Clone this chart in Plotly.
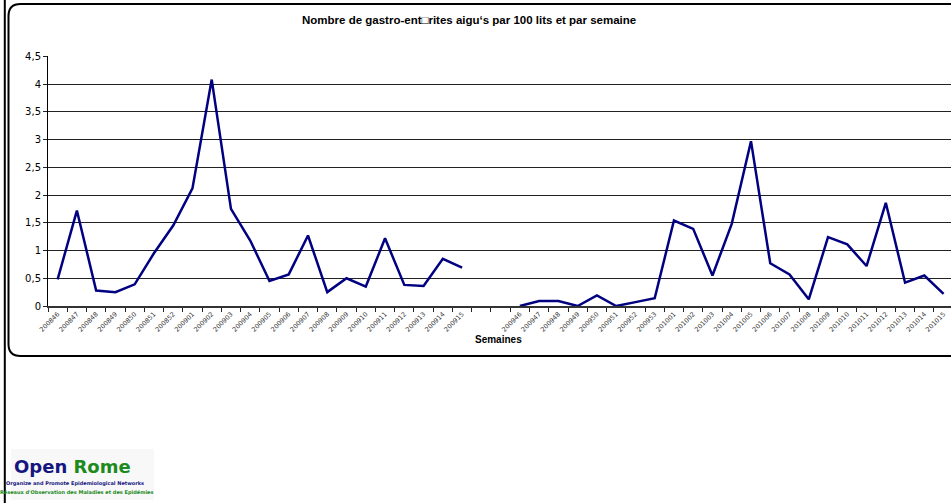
import plotly.graph_objects as go

# ---- data ----
weeks_1 = ["200846", "200847", "200848", "200849", "200850", "200851", "200852",
           "200901", "200902", "200903", "200904", "200905", "200906", "200907",
           "200908", "200909", "200910", "200911", "200912", "200913", "200914", "200915"]
values_1 = [0.48, 1.72, 0.28, 0.25, 0.39, 0.95, 1.45, 2.12, 4.08, 1.75, 1.18,
            0.45, 0.57, 1.27, 0.25, 0.50, 0.35, 1.22, 0.38, 0.36, 0.85, 0.69]

gap_labels = ["", ""]

weeks_2 = ["200946", "200947", "200948", "200949", "200950", "200951", "200952", "200953",
           "201001", "201002", "201003", "201004", "201005", "201006", "201007", "201008",
           "201009", "201010", "201011", "201012", "201013", "201014", "201015"]
values_2 = [0.0, 0.09, 0.09, 0.0, 0.19, 0.0, 0.07, 0.14, 1.54, 1.39, 0.55, 1.48,
            2.97, 0.77, 0.57, 0.12, 1.24, 1.11, 0.72, 1.86, 0.42, 0.55, 0.22]

labels = weeks_1 + gap_labels + weeks_2
values = values_1 + [None] * len(gap_labels) + values_2
xs = list(range(len(labels)))

title_text = "Nombre de gastro-ent\u25a1rites aigu\u2018s par 100 lits et par semaine"
x_title = "Semaines"

# ---- geometry helpers ----
W, H = 951, 503
ML, MR, MT, MB = 48, 0, 56, 197
PW, PH = W - ML - MR, H - MT - MB


def px(x):
    return (x - ML) / PW


def py(y):
    return (H - MB - y) / PH


fig = go.Figure()
fig.add_trace(go.Scatter(
    x=xs, y=values, mode="lines",
    line=dict(color="#000080", width=2.5),
    connectgaps=False, hoverinfo="skip", showlegend=False,
))

# rounded chart-area border
x0, y0, x1, y1, r = 8.5, 4, 975, 356, 12
path = (f"M {px(x0 + r)},{py(y0)} L {px(x1)},{py(y0)} L {px(x1)},{py(y1)} "
        f"L {px(x0 + r)},{py(y1)} Q {px(x0)},{py(y1)} {px(x0)},{py(y1 - r)} "
        f"L {px(x0)},{py(y0 + r)} Q {px(x0)},{py(y0)} {px(x0 + r)},{py(y0)} Z")
shapes = [
    dict(type="path", xref="paper", yref="paper", path=path,
         line=dict(color="black", width=2), fillcolor="rgba(0,0,0,0)", layer="above"),
    dict(type="line", xref="paper", yref="paper", x0=px(4.8), x1=px(4.8), y0=py(0), y1=py(503),
         line=dict(color="black", width=2)),
    dict(type="rect", xref="paper", yref="paper", x0=px(11), x1=px(154), y0=py(449), y1=py(500),
         line=dict(width=0), fillcolor="#f8f8f8", layer="below"),
]

annotations = [
    dict(text=f"<b>{title_text}</b>", xref="paper", yref="paper",
         x=px(469), y=py(20), showarrow=False, xanchor="center", yanchor="middle",
         font=dict(family="Liberation Sans, Arial", size=11.5, color="black")),
    dict(text=f"<b>{x_title}</b>", xref="paper", yref="paper",
         x=px(498), y=py(339), showarrow=False, xanchor="center", yanchor="middle",
         font=dict(family="Liberation Sans, Arial", size=10, color="black")),
    dict(text="<b><span style='color:#161680'>Open</span> <span style='color:#1c8a1c'>Rome</span></b>",
         xref="paper", yref="paper", x=px(72), y=py(466), showarrow=False,
         xanchor="center", yanchor="middle",
         font=dict(family="DejaVu Sans", size=18)),
    dict(text="<b>Organize and Promote Epidemiological Networks</b>",
         xref="paper", yref="paper", x=px(75), y=py(483), showarrow=False,
         xanchor="center", yanchor="middle",
         font=dict(family="DejaVu Sans", size=5, color="#161680")),
    dict(text="<b>R\u00e9seaux d'Observation des Maladies et des Epid\u00e9mies</b>",
         xref="paper", yref="paper", x=px(76), y=py(492), showarrow=False,
         xanchor="center", yanchor="middle",
         font=dict(family="DejaVu Sans", size=5, color="#1c8a1c")),
]

fig.update_layout(
    width=W, height=H,
    margin=dict(l=ML, r=MR, t=MT, b=MB, pad=0),
    paper_bgcolor="white", plot_bgcolor="white",
    separators=", ",
    shapes=shapes, annotations=annotations,
    xaxis=dict(
        range=[-0.5, -0.5 + PW / 19.26],
        tickmode="array", tickvals=xs, ticktext=labels,
        ticks="", tickangle=-45,
        tickfont=dict(family="DejaVu Sans", size=6.5, color="#333333"),
        showgrid=False, zeroline=False,
        showline=True, linecolor="#333333", linewidth=1.5,
        minor=dict(tickmode="linear", tick0=-0.5, dtick=1, ticks="outside",
                   ticklen=4, tickcolor="#222222", tickwidth=1, showgrid=False),
    ),
    yaxis=dict(
        range=[0, 4.505], tickmode="linear", tick0=0, dtick=0.5,
        ticks="outside", ticklen=4, tickcolor="#222222",
        tickfont=dict(family="DejaVu Sans", size=10, color="black"),
        showgrid=True, gridcolor="#222222", gridwidth=1,
        zeroline=False, showline=True, linecolor="black", linewidth=1,
    ),
)

fig.write_html(
    "out.html",
    config={"displayModeBar": False},
    post_script="document.body.style.margin='0';document.body.style.overflow='hidden';",
)
